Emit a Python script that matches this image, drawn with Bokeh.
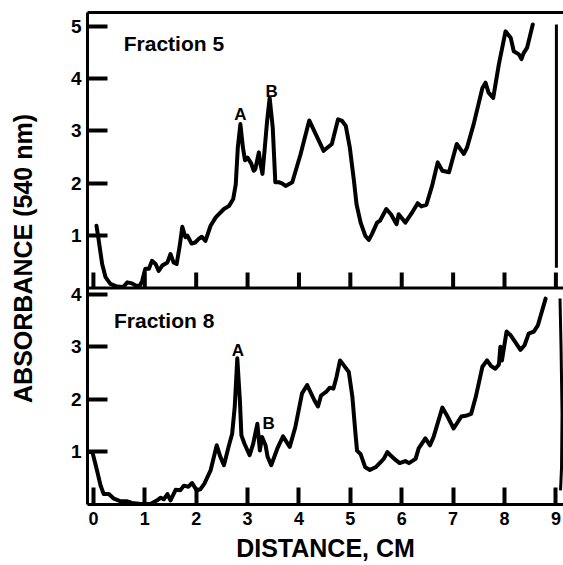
from bokeh.plotting import figure
from bokeh.models import Range1d, FixedTicker, LinearAxis, Label, Span
from bokeh.embed import file_html
from bokeh.resources import INLINE

# ---------------- data (distance in cm, absorbance at 540 nm) ----------------
frac5_x = [0.06, 0.105, 0.17, 0.235, 0.33, 0.46, 0.58, 0.66, 0.75, 0.82, 0.90, 0.95,
           1.01, 1.08, 1.14, 1.21, 1.27, 1.34, 1.44, 1.50, 1.56, 1.62, 1.68, 1.73,
           1.79, 1.83, 1.91, 1.98, 2.05, 2.11, 2.18, 2.28, 2.38, 2.54, 2.64, 2.72,
           2.77, 2.81, 2.86, 2.91, 2.95, 3.00, 3.07, 3.12, 3.15, 3.22, 3.25, 3.29,
           3.33, 3.38, 3.43, 3.49, 3.54, 3.61, 3.67, 3.74, 3.87, 4.03, 4.20, 4.48,
           4.64, 4.76, 4.84, 4.91, 4.99, 5.07, 5.12, 5.20, 5.29, 5.36, 5.42, 5.52,
           5.58, 5.70, 5.79, 5.90, 5.94, 6.07, 6.20, 6.31, 6.38, 6.48, 6.59, 6.70,
           6.79, 6.92, 7.07, 7.21, 7.27, 7.40, 7.57, 7.63, 7.69, 7.78, 7.89, 8.02,
           8.12, 8.18, 8.28, 8.33, 8.37, 8.44, 8.55]
frac5_y = [1.19, 0.90, 0.46, 0.21, 0.08, 0.03, 0.02, 0.11, 0.09, 0.05, 0.04, 0.14,
           0.37, 0.37, 0.52, 0.46, 0.33, 0.43, 0.49, 0.65, 0.49, 0.46, 0.81, 1.17,
           0.97, 1.00, 0.85, 0.87, 0.94, 0.98, 0.90, 1.19, 1.35, 1.51, 1.57, 1.70,
           1.98, 2.68, 3.13, 2.68, 2.44, 2.49, 2.38, 2.24, 2.27, 2.59, 2.37, 2.18,
           2.62, 3.19, 3.63, 3.06, 2.02, 2.02, 2.00, 1.95, 2.02, 2.55, 3.20, 2.62,
           2.75, 3.22, 3.19, 3.10, 2.68, 2.05, 1.60, 1.25, 1.00, 0.92, 1.03, 1.25,
           1.29, 1.51, 1.41, 1.22, 1.41, 1.25, 1.44, 1.62, 1.56, 1.59, 1.95, 2.40,
           2.24, 2.21, 2.75, 2.56, 2.68, 3.13, 3.82, 3.92, 3.73, 3.63, 4.27, 4.90,
           4.78, 4.52, 4.46, 4.37, 4.48, 4.59, 5.03]
frac5_end_x = [9.01, 9.01]
frac5_end_y = [5.03, 0.39]

frac8_x = [-0.09, -0.02, 0.07, 0.14, 0.20, 0.30, 0.40, 0.53, 0.66, 0.75, 0.92, 1.11,
           1.24, 1.31, 1.37, 1.44, 1.50, 1.60, 1.69, 1.76, 1.85, 1.92, 2.01, 2.08,
           2.16, 2.28, 2.40, 2.47, 2.54, 2.63, 2.70, 2.75, 2.80, 2.85, 2.88, 2.94,
           3.04, 3.11, 3.19, 3.24, 3.28, 3.35, 3.39, 3.46, 3.58, 3.69, 3.82, 3.93,
           4.06, 4.16, 4.30, 4.37, 4.43, 4.54, 4.60, 4.67, 4.73, 4.80, 4.87, 4.97,
           5.04, 5.10, 5.13, 5.20, 5.29, 5.38, 5.49, 5.59, 5.65, 5.72, 5.78, 5.88,
           5.96, 6.07, 6.14, 6.27, 6.33, 6.46, 6.55, 6.62, 6.79, 6.88, 7.01, 7.16,
           7.27, 7.35, 7.44, 7.57, 7.66, 7.74, 7.82, 7.89, 7.92, 7.95, 8.04, 8.12,
           8.21, 8.31, 8.39, 8.47, 8.57, 8.65, 8.80]
frac8_y = [0.99, 0.99, 0.64, 0.35, 0.19, 0.19, 0.10, 0.05, 0.05, 0.02, 0.00, 0.00,
           0.07, 0.12, 0.09, 0.19, 0.07, 0.27, 0.26, 0.35, 0.33, 0.40, 0.26, 0.28,
           0.39, 0.64, 1.12, 0.90, 0.74, 1.09, 1.34, 1.85, 2.78, 1.98, 1.31, 1.15,
           0.93, 1.15, 1.53, 1.02, 1.28, 1.12, 0.90, 0.74, 1.06, 1.29, 1.09, 1.47,
           2.11, 2.27, 1.98, 1.86, 2.07, 2.15, 2.22, 2.20, 2.42, 2.74, 2.65, 2.52,
           2.04, 1.34, 1.02, 0.95, 0.70, 0.65, 0.70, 0.80, 0.86, 0.99, 0.93, 0.84,
           0.78, 0.82, 0.78, 0.86, 1.06, 1.25, 1.12, 1.28, 1.84, 1.69, 1.44, 1.67,
           1.69, 1.72, 2.04, 2.62, 2.74, 2.63, 2.58, 2.66, 3.00, 2.74, 3.29, 3.22,
           3.09, 2.94, 3.03, 3.25, 3.29, 3.41, 3.92]
frac8_end_x = [9.08, 9.10, 9.12, 9.11, 9.09]
frac8_end_y = [3.92, 3.00, 1.72, 0.70, 0.26]

x_ticks = [0, 1, 2, 3, 4, 5, 6, 7, 8, 9]
frac5_ticks = [1, 2, 3, 4, 5]
frac8_ticks = [1, 2, 3, 4]

panel_titles = ["Fraction 5", "Fraction 8"]
peak_names = ["A", "B"]
frac5_peak_x = [2.86, 3.47]
frac5_peak_y = [3.32, 3.76]
frac8_peak_x = [2.81, 3.41]
frac8_peak_y = [2.92, 1.54]
title5_pos = (0.59, 4.66)
title8_pos = (0.40, 3.50)

# top panel is stacked above the bottom one on a shared scale
OFFSET = 4.12

FONT = "Liberation Sans"
INK = "#000000"

p = figure(width=563, height=565, output_backend="svg", toolbar_location=None,
           x_range=Range1d(-0.115, 9.148), y_range=Range1d(-0.01, 9.38),
           min_border_left=87, min_border_right=0, min_border_top=12,
           min_border_bottom=61)
p.outline_line_color = None
p.grid.visible = False
p.background_fill_color = "white"
p.border_fill_color = "white"

xax = p.below[0]
yax = p.left[0]

# top frame line
top_ax = LinearAxis(ticker=FixedTicker(ticks=[]), axis_line_width=3,
                    axis_line_color=INK, major_tick_line_color=None,
                    minor_tick_line_color=None, major_label_text_font_size="0px",
                    major_label_standoff=0)
p.add_layout(top_ax, "above")

# left axis: ticks of both panels
y_tick_vals = [float(t) for t in frac8_ticks] + [OFFSET + t for t in frac5_ticks]
y_tick_text = [str(t) for t in frac8_ticks] + [str(t) for t in frac5_ticks]
yax.ticker = FixedTicker(ticks=y_tick_vals)
yax.major_label_overrides = {v: s for v, s in zip(y_tick_vals, y_tick_text)}
yax.major_tick_in = 20
yax.major_tick_out = 0
yax.minor_tick_line_color = None
yax.major_tick_line_width = 4
yax.axis_line_width = 3
yax.axis_line_color = INK
yax.major_tick_line_color = INK
yax.major_label_text_font = FONT
yax.major_label_text_font_style = "bold"
yax.major_label_text_font_size = "19px"
yax.major_label_text_color = INK
yax.major_label_standoff = 6
yax.axis_label = "ABSORBANCE (540 nm)"
yax.axis_label_text_font = FONT
yax.axis_label_text_font_style = "bold"
yax.axis_label_text_font_size = "25px"
yax.axis_label_text_color = INK
yax.axis_label_standoff = 31

xax.ticker = FixedTicker(ticks=x_ticks)
xax.major_tick_in = 17
xax.major_tick_out = 0
xax.minor_tick_line_color = None
xax.major_tick_line_width = 4
xax.axis_line_width = 3
xax.axis_line_color = INK
xax.major_tick_line_color = INK
xax.major_label_text_font = FONT
xax.major_label_text_font_style = "bold"
xax.major_label_text_font_size = "18px"
xax.major_label_text_color = INK
xax.major_label_standoff = 7
xax.axis_label = "DISTANCE, CM"
xax.axis_label_text_font = FONT
xax.axis_label_text_font_style = "bold"
xax.axis_label_text_font_size = "25px"
xax.axis_label_text_color = INK
xax.axis_label_standoff = 6

# divider between the panels (x axis of the top panel) with inward ticks
p.add_layout(Span(location=OFFSET, dimension="width", line_width=3, line_color=INK))
p.segment(x0=x_ticks, y0=[OFFSET] * len(x_ticks), x1=x_ticks,
          y1=[OFFSET + 0.3] * len(x_ticks), line_width=4, line_color=INK)

# traces
p.line(frac5_x, [v + OFFSET for v in frac5_y], line_width=4, line_color=INK,
       line_join="round", line_cap="round")
p.line(frac5_end_x, [v + OFFSET for v in frac5_end_y], line_width=3, line_color=INK)
p.line(frac8_x, frac8_y, line_width=4, line_color=INK, line_join="round",
       line_cap="round")
p.line(frac8_end_x, frac8_end_y, line_width=3, line_color=INK)

# annotations
def add_text(x, y, text, size, align):
    p.add_layout(Label(x=x, y=y, text=text, text_font=FONT, text_font_style="bold",
                       text_font_size=size, text_color=INK, text_align=align,
                       text_baseline="alphabetic"))

add_text(title5_pos[0], title5_pos[1] + OFFSET, panel_titles[0], "21px", "left")
add_text(title8_pos[0], title8_pos[1], panel_titles[1], "21px", "left")
for name, x, y in zip(peak_names, frac5_peak_x, frac5_peak_y):
    add_text(x, y + OFFSET, name, "17px", "center")
for name, x, y in zip(peak_names, frac8_peak_x, frac8_peak_y):
    add_text(x, y, name, "17px", "center")

open("out.html", "w").write(file_html(p, INLINE))
